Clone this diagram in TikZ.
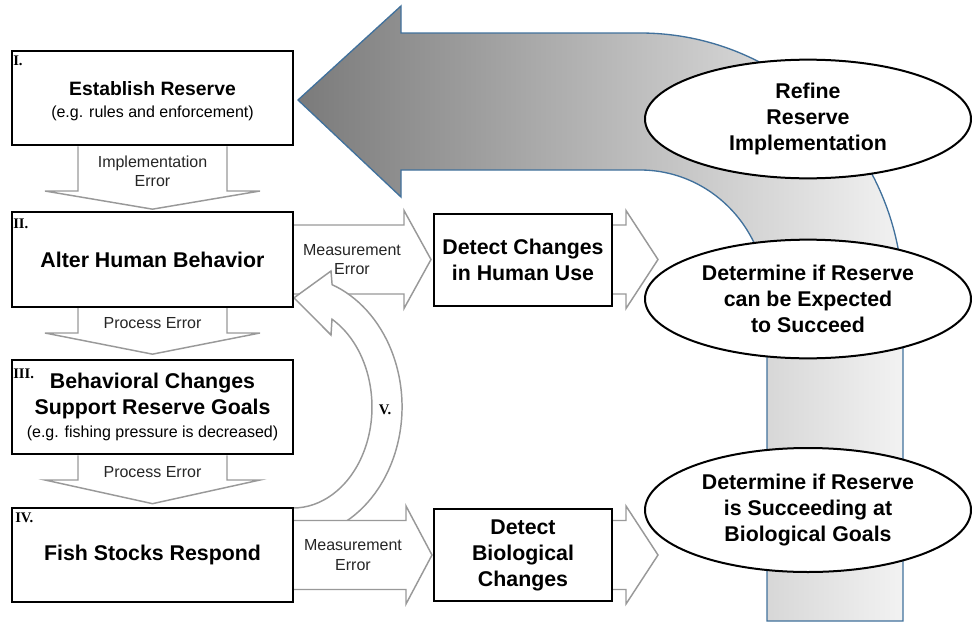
\documentclass[tikz,border=0pt]{standalone}
\usepackage{fontspec}
\setmainfont{Liberation Sans}
\newfontfamily\romanfont{Liberation Serif}
\usetikzlibrary{shapes.geometric, backgrounds}
\definecolor{edgeblue}{RGB}{65,113,156}
\newcommand{\bigtext}{\fontsize{16}{19.5}\selectfont\bfseries}
\newcommand{\smalltext}{\fontsize{12}{14.5}\selectfont\mdseries}

\begin{document}
\begin{tikzpicture}[
    x=0.75pt, y=0.75pt,
    stage/.style={rectangle, draw=black, line width=1.5pt, fill=white, minimum width=210.75pt, minimum height=71pt, inner sep=0pt, align=center, font=\bigtext},
    detect/.style={stage, minimum width=133.5pt, minimum height=69pt},
    goal/.style={ellipse, draw=black, line width=1.5pt, fill=white, minimum width=244.5pt, minimum height=89pt, inner sep=0pt, align=center, font=\bigtext},
    numeral/.style={anchor=north west, inner sep=0pt, font=\romanfont\bfseries\fontsize{11}{13}\selectfont},
    flow/.style={draw=black!40, fill=white, line width=1.1pt},
    err text/.style={inner sep=0pt, align=center, font=\smalltext, text=black!85},
    feedback/.style={draw=edgeblue, line width=1pt, left color=black!52, right color=black!5}
]
\useasboundingbox (0,0) rectangle (972,-625);

% Stages (I-IV)
\node[stage] (boxI) at (152.5,-98) {{\fontsize{14.5}{16}\selectfont\rule{0pt}{15pt}Establish Reserve}\\[-3pt]{\smalltext (e.g. rules and enforcement)}};
\node[stage] (boxII) at (152.5,-259.5) {Alter Human Behavior};
\node[stage] (boxIII) at (152.5,-407) {Behavioral Changes\\Support Reserve Goals\\[-2.5pt]{\smalltext (e.g. fishing pressure is decreased)}};
\node[stage] (boxIV) at (152.5,-555) {Fish Stocks Respond};

\node[numeral] (nI) at ([shift={(2,-6)}]boxI.north west) {I.};
\node[numeral] (nII) at ([shift={(2,-7)}]boxII.north west) {II.};
\node[numeral] (nIII) at ([shift={(2,-10)}]boxIII.north west) {III.};
\node[numeral] (nIV) at ([shift={(4,-6)}]boxIV.north west) {IV.};

% Monitoring
\node[detect] (detHuman) at (523,-259.5) {Detect Changes\\in Human Use};
\node[detect] (detBio) at (523,-555) {Detect\\Biological\\Changes};

% Decisions
\node[goal] (refine) at (808,-119) {Refine\\Reserve\\Implementation};
\node[goal] (expect) at (808,-299) {Determine if Reserve\\can be Expected\\to Succeed};
\node[goal, minimum height=93pt] (succeed) at (808,-510) {Determine if Reserve\\is Succeeding at\\Biological Goals};

\begin{pgfonlayer}{background}
% Feedback to the reserve
\draw[feedback] ([shift={(4,-2)}]boxI.east) -- (401,-6) -- (401,-33) -- (640,-33)
    arc[start angle=90, end angle=0, x radius=263, y radius=267] -- (903,-621) -- (767,-621) -- (767,-300)
    arc[start angle=0, end angle=90, x radius=127, y radius=130] -- (401,-170) -- (401,-197) -- cycle;

% Measurement arrows
\draw[flow] ([shift={(0,34.5)}]boxII.east) -- ++(110,0) -- ++(0,14.5) -- ([shift={(-2,0)}]detHuman.west) -- ++(-27,-49) -- ++(0,14.5) -- ([shift={(0,-34.5)}]boxII.east);
\draw[flow] ([shift={(46.3,-18.3)}]boxIV.north east) arc[start angle=-64.3, end angle=69, x radius=109, y radius=131]
    -- (331,-271) -- ([shift={(0,10)}]boxII.south east) -- (331,-335) -- (332,-319.2)
    arc[start angle=60.4, end angle=-90, x radius=79, y radius=101];
\draw[flow] ([shift={(0,34.5)}]boxIV.east) -- ++(112,0) -- ++(0,14.5) -- ([shift={(-1,0)}]detBio.west) -- ++(-26,-49) -- ++(0,14.5) -- ([shift={(0,-34.5)}]boxIV.east);

% Process arrows
\draw[flow] ([shift={(-74.5,0)}]boxI.south) -- ++(0,-44.67) -- ++(-33,0) -- ([shift={(0,2)}]boxII.north) -- ++(107.5,18.17) -- ++(-33,0) -- ([shift={(74.5,0)}]boxI.south);
\draw[flow] ([shift={(-74.5,0)}]boxII.south) -- ++(0,-25.17) -- ++(-33,0) -- ([shift={(0,4.5)}]boxIII.north) -- ++(107.5,21.17) -- ++(-33,0) -- ([shift={(74.5,0)}]boxII.south);
\draw[flow] ([shift={(-74.5,0)}]boxIII.south) -- ++(0,-24.67) -- ++(-33,0) -- ([shift={(0,3)}]boxIV.north) -- ++(107.5,23.67) -- ++(-33,0) -- ([shift={(74.5,0)}]boxIII.south);

% Towards the decisions
\draw[flow] ([shift={(0,34.5)}]detHuman.east) -- ++(13,0) -- ++(0,14.5) -- ++(32,-49) -- ++(-32,-49) -- ++(0,14.5) -- ([shift={(0,-34.5)}]detHuman.east);
\draw[flow] ([shift={(0,34.5)}]detBio.east) -- ++(13,0) -- ++(0,14.5) -- ++(32,-49) -- ++(-32,-49) -- ++(0,14.5) -- ([shift={(0,-34.5)}]detBio.east);
\end{pgfonlayer}

% Arrow labels
\node[err text] (e12) at ([shift={(0,-25)}]boxI.south) {Implementation\\Error};
\node[err text] (e23) at ([shift={(0,-15)}]boxII.south) {Process Error};
\node[err text] (e34) at ([shift={(0,-16.5)}]boxIII.south) {Process Error};
\node[err text] (m1) at ([shift={(58,0)}]boxII.east) {Measurement\\Error};
\node[err text] (m2) at ([shift={(59,0)}]boxIV.east) {Measurement\\Error};
\node[numeral, anchor=center] (vlab) at (385,-410) {V.};

\end{tikzpicture}
\end{document}
